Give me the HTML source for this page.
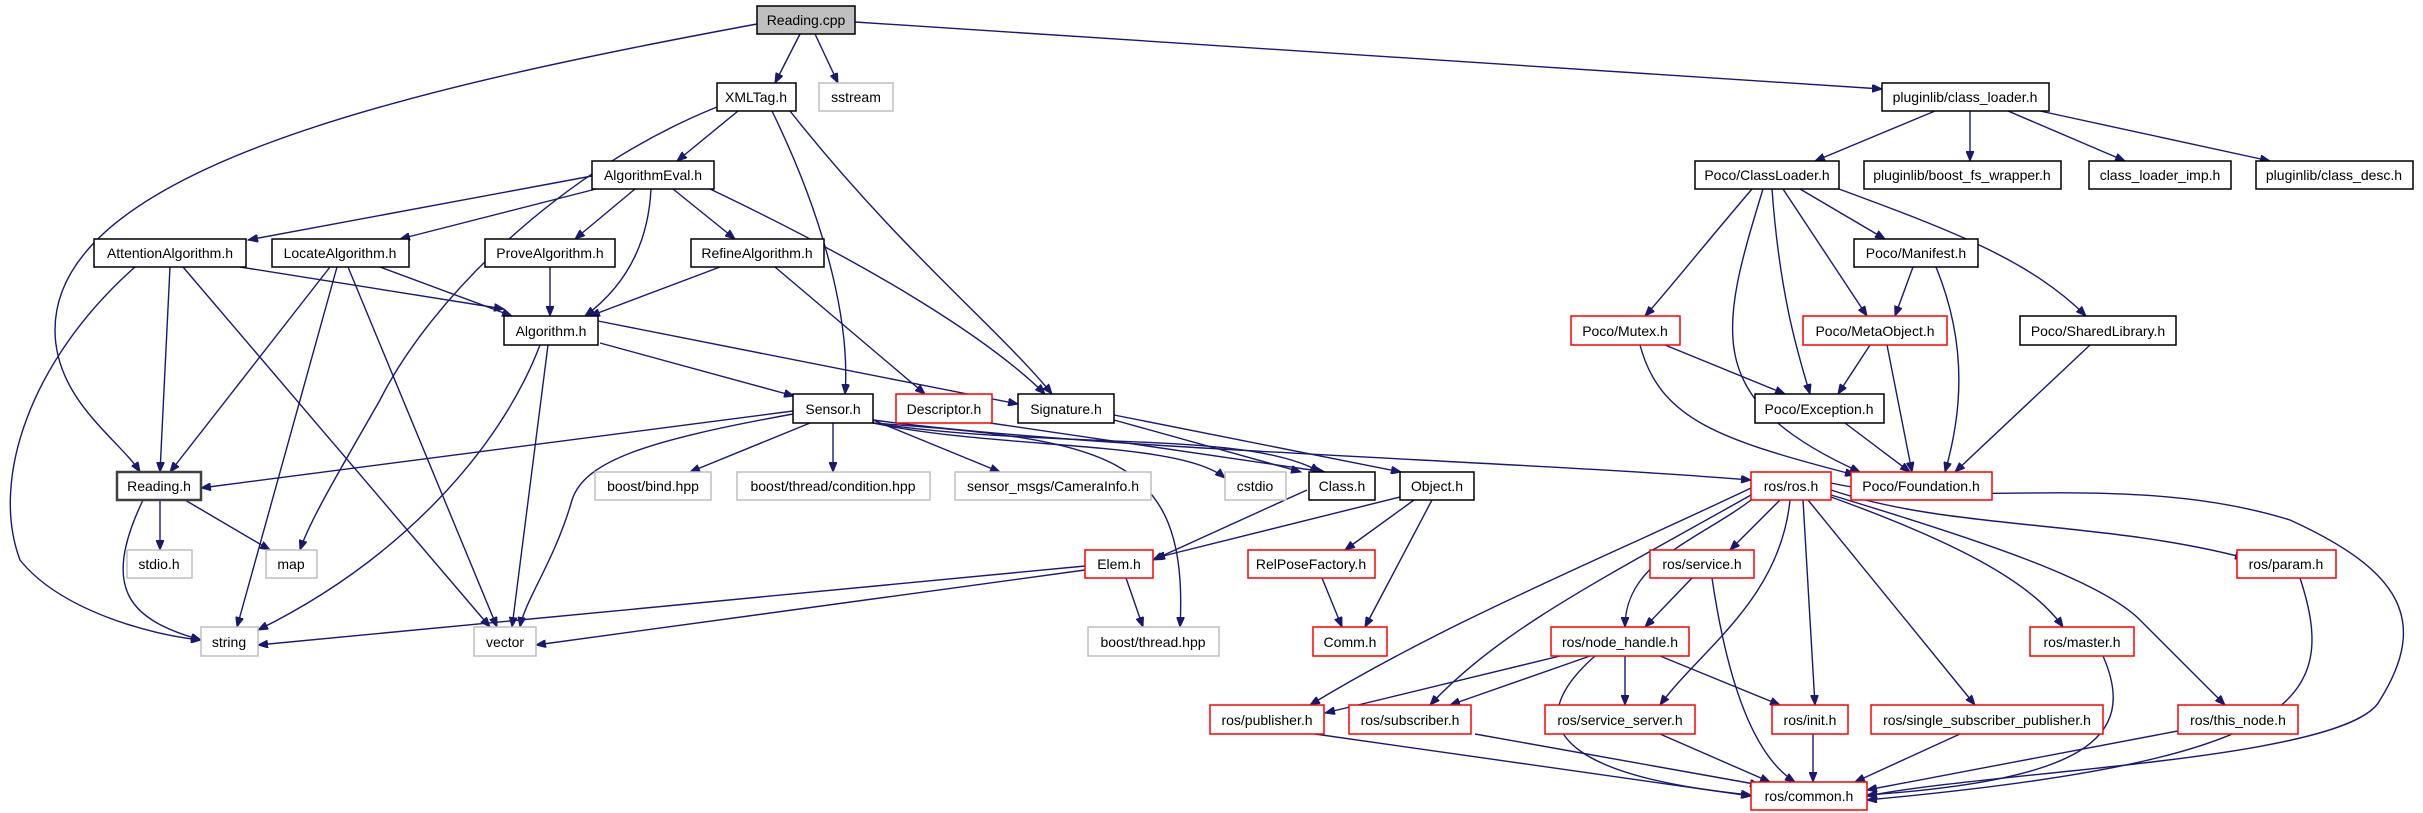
<!DOCTYPE html>
<html><head><meta charset="utf-8"><style>
html,body{margin:0;padding:0;background:#fff;}
svg{display:block;}
text{font-family:"Liberation Sans",sans-serif;font-size:14px;fill:#000;text-anchor:middle;}
.e{fill:none;stroke:#191970;stroke-width:1.4;marker-end:url(#a);}
.n{fill:#fff;stroke:#000;stroke-width:1.5;}
.g{fill:#fff;stroke:#bfbfbf;stroke-width:1.5;}
.r{fill:#fff;stroke:#ff0000;stroke-width:1.5;}
</style></head><body>
<svg width="2423" height="813" viewBox="0 0 2423 813" xmlns="http://www.w3.org/2000/svg">
<defs><marker id="a" markerUnits="userSpaceOnUse" markerWidth="11" markerHeight="8" refX="10" refY="4" orient="auto"><path d="M0,0 L10,4 L0,8 z" fill="#191970" stroke="#191970"/></marker></defs>
<g>
<path class="e" d="M800,34 L775,83"/>
<path class="e" d="M815,34 L838,83"/>
<path class="e" d="M855,22 L1882,89"/>
<path class="e" d="M757,24 C400,90 55,170 55,330 C55,400 120,440 140,472"/>
<path class="e" d="M738,111 L677,161"/>
<path class="e" d="M717,107 C560,170 430,300 380,400 C340,470 310,520 300,550"/>
<path class="e" d="M772,111 C830,230 850,330 845,394"/>
<path class="e" d="M790,111 C900,250 1000,330 1052,394"/>
<path class="e" d="M592,176 L248,240"/>
<path class="e" d="M596,189 L400,239"/>
<path class="e" d="M635,189 L575,239"/>
<path class="e" d="M673,189 L735,239"/>
<path class="e" d="M651,189 C648,250 620,290 585,316"/>
<path class="e" d="M710,189 C880,270 990,340 1045,394"/>
<path class="e" d="M240,267 L504,309"/>
<path class="e" d="M170,267 L160,472"/>
<path class="e" d="M183,267 L490,627"/>
<path class="e" d="M135,267 C30,360 -10,480 20,560 C60,610 150,635 201,640"/>
<path class="e" d="M380,267 L512,316"/>
<path class="e" d="M330,267 L170,472"/>
<path class="e" d="M337,267 L237,627"/>
<path class="e" d="M348,267 L497,627"/>
<path class="e" d="M550,267 L550,316"/>
<path class="e" d="M720,267 L590,316"/>
<path class="e" d="M775,267 L925,394"/>
<path class="e" d="M600,343 L794,396"/>
<path class="e" d="M598,321 L1018,404"/>
<path class="e" d="M540,345 C500,450 400,560 258,630"/>
<path class="e" d="M548,345 L512,627"/>
<path class="e" d="M793,411 L201,488"/>
<path class="e" d="M810,423 L690,472"/>
<path class="e" d="M833,423 L833,472"/>
<path class="e" d="M873,420 L1000,472"/>
<path class="e" d="M873,423 C1000,450 1180,440 1225,478"/>
<path class="e" d="M873,423 C1050,450 1250,430 1320,472"/>
<path class="e" d="M873,423 C1100,440 1190,450 1180,627"/>
<path class="e" d="M873,420 C1100,450 1500,460 1751,480"/>
<path class="e" d="M793,414 C650,440 585,460 572,500 C555,560 525,600 520,627"/>
<path class="e" d="M990,423 L1325,472"/>
<path class="e" d="M1114,420 L1301,472"/>
<path class="e" d="M1114,415 L1401,472"/>
<path class="e" d="M1307,490 L1153,560"/>
<path class="e" d="M1400,497 L1155,558"/>
<path class="e" d="M1414,500 L1345,550"/>
<path class="e" d="M1432,500 L1365,627"/>
<path class="e" d="M1085,566 L258,645"/>
<path class="e" d="M1085,570 L536,645"/>
<path class="e" d="M1126,578 L1143,627"/>
<path class="e" d="M1322,578 L1342,627"/>
<path class="e" d="M160,500 L160,550"/>
<path class="e" d="M185,500 L270,550"/>
<path class="e" d="M143,500 C100,590 130,620 201,640"/>
<path class="e" d="M1935,111 L1815,161"/>
<path class="e" d="M1970,111 L1970,161"/>
<path class="e" d="M2008,111 L2125,161"/>
<path class="e" d="M2040,111 L2270,161"/>
<path class="e" d="M1752,189 C1700,250 1660,300 1645,316"/>
<path class="e" d="M1763,189 C1720,330 1700,400 1860,472"/>
<path class="e" d="M1772,189 C1780,300 1800,360 1810,394"/>
<path class="e" d="M1783,189 L1867,316"/>
<path class="e" d="M1800,189 L1885,239"/>
<path class="e" d="M1839,189 C1950,230 2030,260 2086,316"/>
<path class="e" d="M1913,267 L1895,316"/>
<path class="e" d="M1936,267 C1970,350 1960,420 1945,472"/>
<path class="e" d="M1665,345 L1785,394"/>
<path class="e" d="M1640,345 C1660,420 1720,440 1855,475"/>
<path class="e" d="M1870,345 L1838,394"/>
<path class="e" d="M1887,345 L1912,472"/>
<path class="e" d="M2090,345 L1955,472"/>
<path class="e" d="M1845,423 L1910,472"/>
<path class="e" d="M1780,500 L1730,550"/>
<path class="e" d="M1755,497 C1700,540 1625,560 1625,627"/>
<path class="e" d="M1751,488 C1600,560 1450,620 1310,705"/>
<path class="e" d="M1751,495 C1600,580 1500,630 1430,705"/>
<path class="e" d="M1790,500 C1780,600 1700,650 1660,705"/>
<path class="e" d="M1803,500 L1815,705"/>
<path class="e" d="M1808,500 L1975,705"/>
<path class="e" d="M1831,497 C1950,540 2030,580 2063,627"/>
<path class="e" d="M1831,495 C1980,540 2100,580 2140,620 C2180,660 2210,690 2225,705"/>
<path class="e" d="M1831,490 C1950,530 2100,520 2245,558"/>
<path class="e" d="M1831,483 C1950,510 2130,470 2290,520 C2400,570 2430,620 2380,700 C2350,760 2000,770 1867,796"/>
<path class="e" d="M1692,578 L1645,627"/>
<path class="e" d="M1712,578 C1730,700 1760,760 1795,782"/>
<path class="e" d="M1560,656 L1325,713"/>
<path class="e" d="M1590,656 L1450,705"/>
<path class="e" d="M1625,656 L1625,705"/>
<path class="e" d="M1660,656 L1780,705"/>
<path class="e" d="M1595,656 C1500,740 1600,780 1751,795"/>
<path class="e" d="M1315,734 L1751,796"/>
<path class="e" d="M1475,734 L1760,785"/>
<path class="e" d="M1660,734 L1770,782"/>
<path class="e" d="M1813,734 L1813,782"/>
<path class="e" d="M1960,734 L1855,782"/>
<path class="e" d="M2183,730 L1867,790"/>
<path class="e" d="M2103,656 C2140,740 2080,780 1867,795"/>
<path class="e" d="M2300,578 C2340,700 2300,760 1867,800"/>
</g>
<g>
<rect x="757" y="6" width="98" height="28" fill="#bfbfbf" stroke="#000" stroke-width="1.5"/><text x="806" y="25">Reading.cpp</text>
<rect class="n" x="717" y="83" width="79" height="28"/><text x="756" y="102">XMLTag.h</text>
<rect class="g" x="819" y="83" width="74" height="28"/><text x="856" y="102">sstream</text>
<rect class="n" x="1882" y="83" width="167" height="28"/><text x="1965" y="102">pluginlib/class_loader.h</text>
<rect class="n" x="592" y="161" width="122" height="28"/><text x="653" y="180">AlgorithmEval.h</text>
<rect class="n" x="1695" y="161" width="144" height="28"/><text x="1767" y="180">Poco/ClassLoader.h</text>
<rect class="n" x="1864" y="161" width="197" height="28"/><text x="1962" y="180">pluginlib/boost_fs_wrapper.h</text>
<rect class="n" x="2089" y="161" width="142" height="28"/><text x="2160" y="180">class_loader_imp.h</text>
<rect class="n" x="2256" y="161" width="157" height="28"/><text x="2334" y="180">pluginlib/class_desc.h</text>
<rect class="n" x="94" y="239" width="152" height="28"/><text x="170" y="258">AttentionAlgorithm.h</text>
<rect class="n" x="272" y="239" width="137" height="28"/><text x="340" y="258">LocateAlgorithm.h</text>
<rect class="n" x="485" y="239" width="130" height="28"/><text x="550" y="258">ProveAlgorithm.h</text>
<rect class="n" x="691" y="239" width="133" height="28"/><text x="757" y="258">RefineAlgorithm.h</text>
<rect class="n" x="1854" y="239" width="124" height="28"/><text x="1916" y="258">Poco/Manifest.h</text>
<rect class="n" x="504" y="316" width="94" height="29"/><text x="551" y="336">Algorithm.h</text>
<rect class="r" x="1571" y="316" width="109" height="29"/><text x="1625" y="336">Poco/Mutex.h</text>
<rect class="r" x="1803" y="316" width="144" height="29"/><text x="1875" y="336">Poco/MetaObject.h</text>
<rect class="n" x="2020" y="316" width="156" height="29"/><text x="2098" y="336">Poco/SharedLibrary.h</text>
<rect class="n" x="793" y="394" width="80" height="29"/><text x="833" y="414">Sensor.h</text>
<rect class="r" x="896" y="394" width="96" height="29"/><text x="944" y="414">Descriptor.h</text>
<rect class="n" x="1018" y="394" width="96" height="29"/><text x="1066" y="414">Signature.h</text>
<rect class="n" x="1755" y="394" width="129" height="29"/><text x="1819" y="414">Poco/Exception.h</text>
<rect x="117" y="472" width="84" height="28" fill="#fff" stroke="#404040" stroke-width="2.5"/><text x="159" y="491">Reading.h</text>
<rect class="g" x="595" y="472" width="116" height="28"/><text x="653" y="491">boost/bind.hpp</text>
<rect class="g" x="737" y="472" width="193" height="28"/><text x="833" y="491">boost/thread/condition.hpp</text>
<rect class="g" x="955" y="472" width="196" height="28"/><text x="1053" y="491">sensor_msgs/CameraInfo.h</text>
<rect class="g" x="1225" y="472" width="61" height="28"/><text x="1255" y="491">cstdio</text>
<rect class="n" x="1309" y="472" width="66" height="28"/><text x="1342" y="491">Class.h</text>
<rect class="n" x="1400" y="472" width="74" height="28"/><text x="1437" y="491">Object.h</text>
<rect class="r" x="1751" y="472" width="80" height="28"/><text x="1791" y="491">ros/ros.h</text>
<rect class="r" x="1851" y="472" width="141" height="28"/><text x="1921" y="491">Poco/Foundation.h</text>
<rect class="g" x="127" y="550" width="65" height="28"/><text x="159" y="569">stdio.h</text>
<rect class="g" x="266" y="550" width="51" height="28"/><text x="291" y="569">map</text>
<rect class="r" x="1085" y="550" width="68" height="28"/><text x="1119" y="569">Elem.h</text>
<rect class="r" x="1248" y="550" width="127" height="28"/><text x="1311" y="569">RelPoseFactory.h</text>
<rect class="r" x="1650" y="550" width="104" height="28"/><text x="1702" y="569">ros/service.h</text>
<rect class="r" x="2237" y="550" width="99" height="28"/><text x="2286" y="569">ros/param.h</text>
<rect class="g" x="201" y="627" width="57" height="29"/><text x="229" y="647">string</text>
<rect class="g" x="474" y="627" width="62" height="29"/><text x="505" y="647">vector</text>
<rect class="g" x="1088" y="627" width="131" height="29"/><text x="1153" y="647">boost/thread.hpp</text>
<rect class="r" x="1313" y="627" width="74" height="29"/><text x="1350" y="647">Comm.h</text>
<rect class="r" x="1551" y="627" width="138" height="29"/><text x="1620" y="647">ros/node_handle.h</text>
<rect class="r" x="2030" y="627" width="104" height="29"/><text x="2082" y="647">ros/master.h</text>
<rect class="r" x="1210" y="705" width="114" height="29"/><text x="1267" y="725">ros/publisher.h</text>
<rect class="r" x="1349" y="705" width="122" height="29"/><text x="1410" y="725">ros/subscriber.h</text>
<rect class="r" x="1545" y="705" width="150" height="29"/><text x="1620" y="725">ros/service_server.h</text>
<rect class="r" x="1772" y="705" width="76" height="29"/><text x="1810" y="725">ros/init.h</text>
<rect class="r" x="1871" y="705" width="232" height="29"/><text x="1987" y="725">ros/single_subscriber_publisher.h</text>
<rect class="r" x="2178" y="705" width="120" height="29"/><text x="2238" y="725">ros/this_node.h</text>
<rect class="r" x="1751" y="782" width="116" height="28"/><text x="1809" y="801">ros/common.h</text>
</g>
</svg>
</body></html>
